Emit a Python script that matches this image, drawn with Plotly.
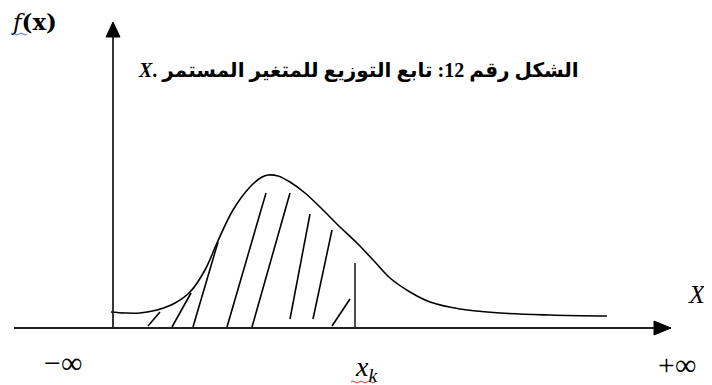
import plotly.graph_objects as go

# --- data (pixel-like units, y grows downward) ---
curve_x = [111, 125, 140, 157, 175, 190, 205, 217, 233, 250, 262, 268, 278, 290, 305, 323, 340, 357, 375, 390, 410, 430, 460, 500, 550, 607]
curve_y = [312, 313, 313, 310, 303, 292, 270, 243, 210, 187, 177, 175, 176, 182, 193, 210, 227, 243, 262, 278, 292, 302, 309, 313, 315, 316]

hatch_x0 = [148, 172, 193, 227, 252, 290, 313, 332]
hatch_y0 = [326, 327, 327, 327, 327, 319, 319, 326]
hatch_x1 = [160, 191, 218, 266, 290, 310, 332, 350]
hatch_y1 = [312, 293, 242, 193, 193, 214, 230, 299]

x_k = 355
x_k_top = 263

x_axis = dict(x0=14, x1=656, y=328)
y_axis = dict(x=113, y0=328, y1=36)

title_text = "\u202Bالشكل رقم 12: تابع التوزيع للمتغير المستمر \u202A<i>X</i>.\u202C\u202C"

# page body has an 8px margin, so the plot is offset by that much
PAD = 8

fig = go.Figure()

# shaded hatch lines
hx, hy = [], []
for a, b, c, d in zip(hatch_x0, hatch_y0, hatch_x1, hatch_y1):
    hx += [a, c, None]
    hy += [b, d, None]
fig.add_trace(go.Scatter(x=hx, y=hy, mode="lines", line=dict(color="black", width=1.6), hoverinfo="skip"))

# density curve
fig.add_trace(go.Scatter(x=curve_x, y=curve_y, mode="lines", line=dict(color="black", width=1.6, shape="spline", smoothing=1.0), hoverinfo="skip"))

# x_k vertical
fig.add_trace(go.Scatter(x=[x_k, x_k], y=[x_axis["y"], x_k_top], mode="lines", line=dict(color="#222", width=1.6), hoverinfo="skip"))

# axes
fig.add_trace(go.Scatter(x=[x_axis["x0"], x_axis["x1"]], y=[x_axis["y"], x_axis["y"]], mode="lines", line=dict(color="#222", width=1.8), hoverinfo="skip"))
fig.add_trace(go.Scatter(x=[y_axis["x"], y_axis["x"]], y=[y_axis["y0"], y_axis["y1"]], mode="lines", line=dict(color="#222", width=1.8), hoverinfo="skip"))

# arrow heads
fig.add_trace(go.Scatter(x=[654, 671, 654, 654], y=[321, 328, 335, 321], fill="toself", fillcolor="black", mode="lines", line=dict(color="black", width=1), hoverinfo="skip"))
fig.add_trace(go.Scatter(x=[106, 113, 120, 106], y=[37, 22, 37, 37], fill="toself", fillcolor="black", mode="lines", line=dict(color="black", width=1), hoverinfo="skip"))

serif = "Liberation Serif, Times New Roman, serif"
fig.add_annotation(x=581, y=70, text="<b>" + title_text + "</b>", showarrow=False, xanchor="right", yanchor="middle",
                   font=dict(family="Liberation Serif, DejaVu Sans, serif", size=20, color="black"))
fig.add_annotation(x=9, y=21, text="<i>f</i><b>(x)</b>", showarrow=False, xanchor="left", yanchor="middle",
                   font=dict(family="DejaVu Serif, serif", size=23, color="black"))
fig.add_annotation(x=686, y=294, text="<i>X</i>", showarrow=False, xanchor="left", yanchor="middle",
                   font=dict(family=serif, size=26, color="black"))
fig.add_annotation(x=63, y=362, text="\u2212\u221e", showarrow=False, xanchor="center", yanchor="middle",
                   font=dict(family=serif, size=30, color="black"))
fig.add_annotation(x=677, y=364, text="+\u221e", showarrow=False, xanchor="center", yanchor="middle",
                   font=dict(family=serif, size=30, color="black"))
fig.add_annotation(x=366, y=368, text="<i>x</i><sub><i>k</i></sub>", showarrow=False, xanchor="center", yanchor="middle",
                   font=dict(family=serif, size=28, color="black"))

# spell-check squiggles
fig.add_shape(type="path", path="M 11 34 Q 13 32 15 34 T 19 34 T 23 34 T 27 34", line=dict(color="#4a6fd6", width=1))
fig.add_shape(type="path", path="M 351 382 Q 353 380 355 382 T 359 382 T 363 382 T 367 382 T 371 382 T 375 382", line=dict(color="#e03030", width=1))

fig.update_xaxes(range=[PAD, 712], visible=False, fixedrange=True)
fig.update_yaxes(range=[385, PAD], visible=False, fixedrange=True)
fig.update_layout(width=712 - PAD, height=385 - PAD, margin=dict(l=0, r=0, t=0, b=0),
                  plot_bgcolor="white", paper_bgcolor="white", showlegend=False)

fig.write_html("out.html")
